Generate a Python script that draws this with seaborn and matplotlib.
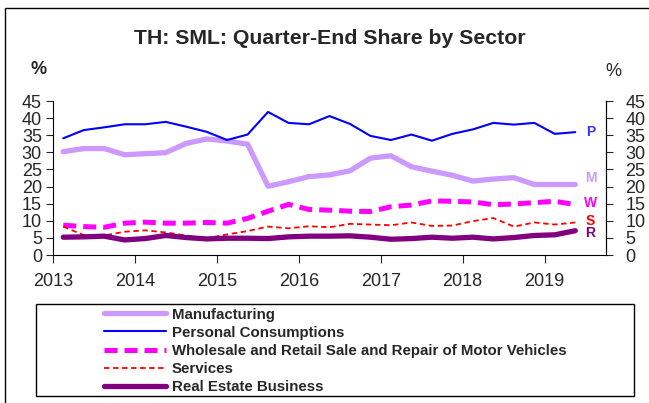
import numpy as np
import pandas as pd
import matplotlib.pyplot as plt
import seaborn as sns
from matplotlib.patches import Rectangle
from matplotlib.lines import Line2D

# Quarter-end share by sector, 2013Q1 - 2019Q2 (%)
quarters = pd.period_range("2013Q1", "2019Q2", freq="Q")
manufacturing = [30.2, 31.1, 31.1, 29.3, 29.6, 29.9, 32.6, 33.9, 33.3, 32.4, 20.1, 21.4, 22.9,
                 23.4, 24.6, 28.3, 29.0, 25.8, 24.5, 23.3, 21.6, 22.2, 22.6, 20.6, 20.6, 20.6]
personal = [34.1, 36.5, 37.3, 38.2, 38.2, 38.9, 37.5, 36.0, 33.6, 35.2, 41.8, 38.6, 38.2,
            40.6, 38.3, 34.8, 33.6, 35.2, 33.4, 35.4, 36.7, 38.6, 38.1, 38.6, 35.4, 35.9]
wholesale = [8.7, 8.3, 8.1, 9.3, 9.6, 9.3, 9.3, 9.5, 9.3, 10.7, 12.8, 14.8, 13.3,
             13.1, 12.8, 12.7, 14.1, 14.6, 15.8, 15.7, 15.5, 14.7, 14.9, 15.3, 15.7, 14.7]
services = [8.3, 5.8, 5.7, 6.8, 7.2, 6.6, 5.7, 4.9, 6.0, 7.0, 8.3, 7.8, 8.4,
            8.1, 9.1, 8.9, 8.7, 9.5, 8.5, 8.6, 9.9, 10.8, 8.3, 9.5, 8.9, 9.5]
real_estate = [5.2, 5.3, 5.5, 4.4, 4.8, 5.7, 5.1, 4.7, 4.9, 4.9, 4.8, 5.3, 5.5,
               5.5, 5.6, 5.2, 4.6, 4.8, 5.2, 4.9, 5.2, 4.7, 5.1, 5.7, 5.9, 7.1]

# place each quarter in the middle of its quarter on a year scale
x_pos = quarters.year + (quarters.quarter - 1) * 0.25 + 0.125

df = pd.DataFrame({'x': x_pos,
                   'Manufacturing': manufacturing,
                   'Personal Consumptions': personal,
                   'Wholesale and Retail Sale and Repair of Motor Vehicles': wholesale,
                   'Services': services,
                   'Real Estate Business': real_estate})

styles = {
    'Manufacturing': dict(color='#cc99ff', lw=3.8, ls='-'),
    'Personal Consumptions': dict(color='#0000ff', lw=1.5, ls='-'),
    'Wholesale and Retail Sale and Repair of Motor Vehicles': dict(color='#ff00ff', lw=3.6, ls=(0, (2.6, 1.4))),
    'Services': dict(color='#ff0000', lw=1.3, ls=(0, (3, 2))),
    'Real Estate Business': dict(color='#800080', lw=3.8, ls='-'),
}
end_labels = [('P', 36.0, '#3333ff'), ('M', 22.5, '#cc99ff'), ('W', 15.2, '#ff00ff'),
              ('S', 10.0, '#ff0000'), ('R', 6.3, '#800080')]

sns.set_style("white")
plt.rcParams['font.family'] = ['Liberation Sans', 'DejaVu Sans']

fig = plt.figure(figsize=(6.49, 4.03), dpi=100)
ax = fig.add_axes([53 / 649, 1 - 255 / 403, 553 / 649, 154 / 403])

for name, st in styles.items():
    sns.lineplot(data=df, x='x', y=name, ax=ax, color=st['color'], linewidth=st['lw'],
                 linestyle=st['ls'], legend=False)

ax.set_xlim(2013, 2019.75)
ax.set_ylim(0, 45)
ax.set_xticks(range(2013, 2020))
ax.set_yticks(range(0, 50, 5))
ax.set_xlabel('')
ax.set_ylabel('')
for s in ['left', 'right', 'bottom']:
    ax.spines[s].set_color('black')
    ax.spines[s].set_linewidth(0.8)
ax.spines['top'].set_visible(False)
ax.tick_params(axis='x', direction='out', length=6, width=0.8, labelsize=13, pad=7, bottom=True)
ax.tick_params(axis='y', direction='out', length=5, width=0.8, labelsize=13, pad=3, left=True)

ax2 = ax.twinx()
ax2.set_ylim(0, 45)
ax2.set_yticks(range(0, 50, 5))
ax2.tick_params(axis='y', direction='out', length=5, width=0.8, labelsize=13, pad=9, right=True)
for s in ['top', 'left', 'bottom']:
    ax2.spines[s].set_visible(False)
ax2.spines['right'].set_color('black')
ax2.spines['right'].set_linewidth(0.8)

for letter, yv, col in end_labels:
    ax.text(2019.56, yv, letter, color=col, fontsize=10, fontweight='bold', ha='center', va='center')

fig.text(330 / 649, 1 - 38 / 403, 'TH: SML: Quarter-End Share by Sector', ha='center', va='center',
         fontsize=15.3, fontweight='bold')
fig.text(39 / 649, 1 - 69 / 403, '%', ha='center', va='center', fontsize=13, fontweight='bold')
fig.text(613 / 649, 1 - 72 / 403, '%', ha='center', va='center', fontsize=13)

# outer chart frame and legend box
fig.patches.append(Rectangle((5 / 649, -0.1), 2, 1 - 7.5 / 403 + 0.1, transform=fig.transFigure,
                             fill=False, edgecolor='black', linewidth=1.0))
fig.patches.append(Rectangle((36 / 649, 1 - 396 / 403), 598 / 649, 92 / 403, transform=fig.transFigure,
                             fill=False, edgecolor='black', linewidth=1.0))

handles = [Line2D([], [], color=st['color'], linewidth=st['lw'], linestyle=st['ls']) for st in styles.values()]
fig.legend(handles, list(styles.keys()), loc='upper left', bbox_to_anchor=(103 / 649, 1 - 306 / 403),
           frameon=False, handlelength=4.1, handletextpad=0.4, labelspacing=0.28, borderpad=0.1,
           borderaxespad=0, prop={'size': 10.8, 'weight': 'bold'})

fig.savefig('out.png', dpi=100)
